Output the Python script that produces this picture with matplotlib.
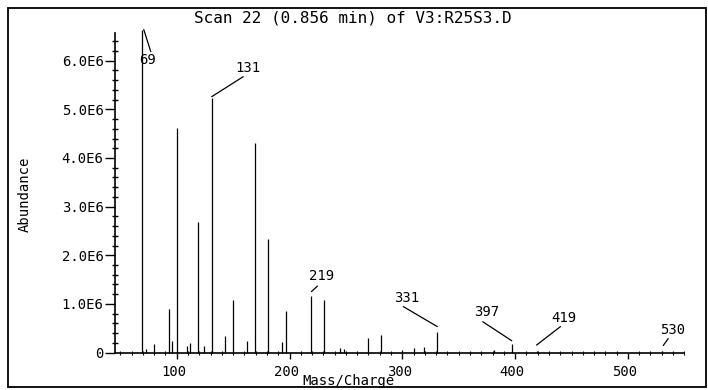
import matplotlib.pyplot as plt
import matplotlib.transforms as mtransforms
from matplotlib.patches import Rectangle
from matplotlib.ticker import MultipleLocator, FuncFormatter

# peak list (m/z, abundance)
mass = [69, 73, 80, 93, 96, 100, 109, 112, 119, 124, 131, 143, 150, 162, 169,
        181, 193, 197, 219, 231, 245, 248, 270, 281, 300, 310, 319, 331, 381,
        397, 419, 530]
abundance = [6.64e6, 0.08e6, 0.17e6, 0.89e6, 0.23e6, 4.61e6, 0.13e6, 0.20e6,
             2.69e6, 0.14e6, 5.24e6, 0.33e6, 1.08e6, 0.24e6, 4.30e6, 2.33e6,
             0.21e6, 0.85e6, 1.16e6, 1.07e6, 0.10e6, 0.08e6, 0.29e6, 0.37e6,
             0.05e6, 0.09e6, 0.12e6, 0.43e6, 0.06e6, 0.17e6, 0.04e6, 0.03e6]

labelled = [69, 131, 219, 331, 397, 419, 530]
# leader start, leader end, text centre: pixel offsets from peak top
leader_start = [(2, 0), (0, 1), (0.5, 4.5), (0, 5), (0, 3.5), (0, 5.5), (1.5, 5.5)]
leader_end = [(9, -22), (31.5, 21), (6.5, 10), (-34, 25), (-29, 22.5), (24, 24), (6.5, 12.5)]
text_pos = [(6, -30), (36, 30), (10.5, 20.5), (-31, 34), (-25.5, 32), (27.5, 32.5), (11, 21)]

title = 'Scan 22 (0.856 min) of V3:R25S3.D'
mono = 'DejaVu Sans Mono'

W, H = 708, 390
fig = plt.figure(figsize=(W / 100, H / 100), dpi=100)
ax = fig.add_axes([114.7 / W, (H - 352.5) / H, (684.3 - 114.7) / W, 319.5 / H])

ax.vlines(mass, 0, abundance, colors='black', lw=0.9, clip_on=False)

ax.set_xlim(45, 550)
ax.set_ylim(0, 6.57e6)
for s in ['top', 'right']:
    ax.spines[s].set_visible(False)
for s in ['left', 'bottom']:
    ax.spines[s].set_linewidth(1.2)

ax.xaxis.set_major_locator(MultipleLocator(100))
ax.xaxis.set_minor_locator(MultipleLocator(10))
ax.yaxis.set_major_locator(MultipleLocator(1e6))
ax.yaxis.set_minor_locator(MultipleLocator(2e5))
ax.yaxis.set_major_formatter(FuncFormatter(lambda v, p: '0' if v == 0 else '%.1fE6' % (v / 1e6)))

ax.tick_params(axis='y', which='major', direction='out', length=7, width=1, pad=1, labelsize=10)
ax.tick_params(axis='y', which='minor', direction='inout', length=4, width=1)
ax.tick_params(axis='x', which='major', direction='out', length=4, width=1, pad=5, labelsize=10)
ax.tick_params(axis='x', which='minor', direction='inout', length=3, width=0.8)
for lab in ax.get_xticklabels() + ax.get_yticklabels():
    lab.set_family(mono)
shift = mtransforms.ScaledTranslation(-3 / 100, 0, fig.dpi_scale_trans)
for lab in ax.get_xticklabels():
    lab.set_transform(lab.get_transform() + shift)

for m, s0, s1, t in zip(labelled, leader_start, leader_end, text_pos):
    h = abundance[mass.index(m)]
    start = mtransforms.offset_copy(ax.transData, fig, x=s0[0], y=s0[1], units='dots')
    ax.annotate('', xy=(m, h), xycoords=start,
                xytext=(s1[0] - s0[0], s1[1] - s0[1]), textcoords='offset pixels',
                arrowprops=dict(arrowstyle='-', lw=0.9, color='black', shrinkA=0, shrinkB=0),
                annotation_clip=False)
    ax.annotate(str(m), xy=(m, h), xytext=t, textcoords='offset pixels',
                ha='center', va='center', family=mono, fontsize=10,
                annotation_clip=False)

fig.text(353 / W, 1 - 18 / H, title, ha='center', va='center', family=mono,
         fontsize=11.5)
fig.text(25 / W, 1 - 194 / H, 'Abundance', rotation=90, ha='center', va='center',
         family=mono, fontsize=10)
fig.text(348 / W, 1 - 381.5 / H, 'Mass/Charge', ha='center', va='center',
         family=mono, fontsize=10)

fig.patches.append(Rectangle((8 / W, 3 / H), 698 / W, 379 / H, transform=fig.transFigure,
                             fill=False, lw=1.3, edgecolor='black'))

plt.savefig('out.png', dpi=100)
